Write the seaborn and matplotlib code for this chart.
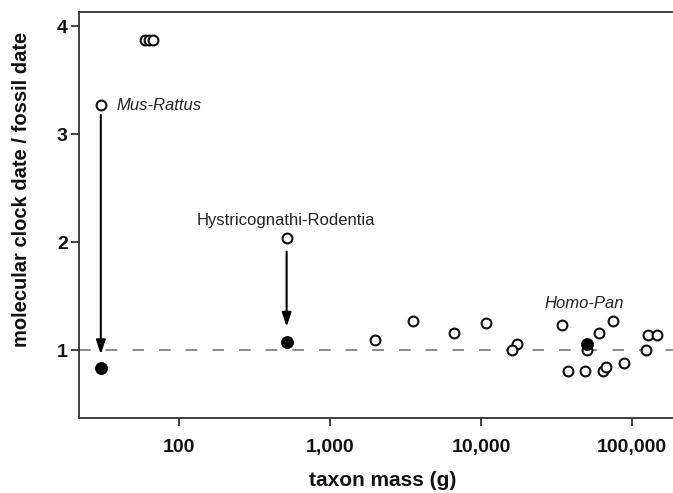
import matplotlib
matplotlib.use("Agg")
import matplotlib.pyplot as plt
import seaborn as sns
import pandas as pd

# ---- data ----
open_mass = [30.4, 59.6, 63.3, 67.3, 516.7, 1986, 3562, 6656, 10793, 17395, 15971,
             34540, 50119, 60730, 74500, 37860, 48830, 63970, 67260, 88510,
             123800, 128200, 145700]
open_ratio = [3.273, 3.875, 3.875, 3.875, 2.039, 1.097, 1.276, 1.165, 1.252, 1.060, 1.005,
              1.236, 1.005, 1.165, 1.276, 0.813, 0.813, 0.813, 0.850, 0.887,
              1.005, 1.144, 1.144]
filled_mass = [30.4, 516.7, 50119]
filled_ratio = [0.838, 1.076, 1.060]

arrow_mass = [30.4, 516.7]
arrow_from = [3.18, 1.915]
arrow_to = [0.965, 1.22]

labels = ["Mus-Rattus", "Hystricognathi-Rodentia", "Homo-Pan"]
label_mass = [38.7, 509.6, 48620]
label_ratio = [3.273, 2.208, 1.437]

xticks = [100, 1000, 10000, 100000]
xticklabels = ["100", "1,000", "10,000", "100,000"]
yticks = [1, 2, 3, 4]

df_open = pd.DataFrame({"mass": open_mass, "ratio": open_ratio})
df_filled = pd.DataFrame({"mass": filled_mass, "ratio": filled_ratio})

sns.set_theme(style="white")
plt.rcParams["font.family"] = ["Liberation Sans", "DejaVu Sans"]

fig = plt.figure(figsize=(6.73, 4.93), dpi=100)
ax = fig.add_axes([79 / 673, 75 / 493, 597.4 / 673, 406.3 / 493])
ax.set_xscale("log")

ax.axhline(1, color="#8e8e8e", lw=1.5, linestyle=(0, (5.6, 7.2)), zorder=1)

sns.scatterplot(data=df_open, x="mass", y="ratio", ax=ax, s=50, marker="o",
                facecolor="white", edgecolor="#111111", linewidth=1.5, zorder=3)
sns.scatterplot(data=df_filled, x="mass", y="ratio", ax=ax, s=76, marker="o",
                color="black", edgecolor="black", linewidth=0.5, zorder=4)

for xm, y0, y1 in zip(arrow_mass, arrow_from, arrow_to):
    ax.annotate("", xy=(xm, y1), xytext=(xm, y0),
                arrowprops=dict(arrowstyle="-|>,head_length=0.6,head_width=0.2",
                                color="black", lw=1.5, mutation_scale=14,
                                shrinkA=0, shrinkB=0), zorder=2)

ax.text(label_mass[0], label_ratio[0], labels[0], style="italic", fontsize=12,
        ha="left", va="center", color="#222222")
ax.text(label_mass[1], label_ratio[1], labels[1], fontsize=12,
        ha="center", va="center", color="#222222")
ax.text(label_mass[2], label_ratio[2], labels[2], style="italic", fontsize=12,
        ha="center", va="center", color="#222222")

ax.set_xlim(21.8, 196800)
ax.set_ylim(0.375, 4.137)
ax.set_xticks(xticks)
ax.set_xticklabels(xticklabels)
ax.xaxis.set_minor_locator(matplotlib.ticker.NullLocator())
ax.set_yticks(yticks)
ax.set_yticklabels([str(v) for v in yticks])

for lab in ax.get_xticklabels() + ax.get_yticklabels():
    lab.set_fontweight("bold")
    lab.set_color("#111111")
ax.tick_params(axis="x", which="major", direction="out", length=6, width=1.3,
               color="#333333", labelsize=14, pad=9, bottom=True)
ax.tick_params(axis="y", which="major", direction="out", length=6, width=1.3,
               color="#333333", labelsize=14, pad=2, left=True)

for side in ["left", "bottom", "top", "right"]:
    ax.spines[side].set_color("#333333")
    ax.spines[side].set_linewidth(1.3)

ax.set_xlabel("taxon mass (g)", fontsize=15, fontweight="bold", color="#111111", va="center")
ax.set_ylabel("molecular clock date / fossil date", fontsize=14.5, fontweight="bold",
              color="#111111", va="center")
ax.xaxis.set_label_coords((383 - 79) / 597.4, (418 - 481) / 406.3)
ax.yaxis.set_label_coords((21.7 - 79) / 597.4, (418 - 189) / 406.3)

fig.savefig("out.png", dpi=100)
